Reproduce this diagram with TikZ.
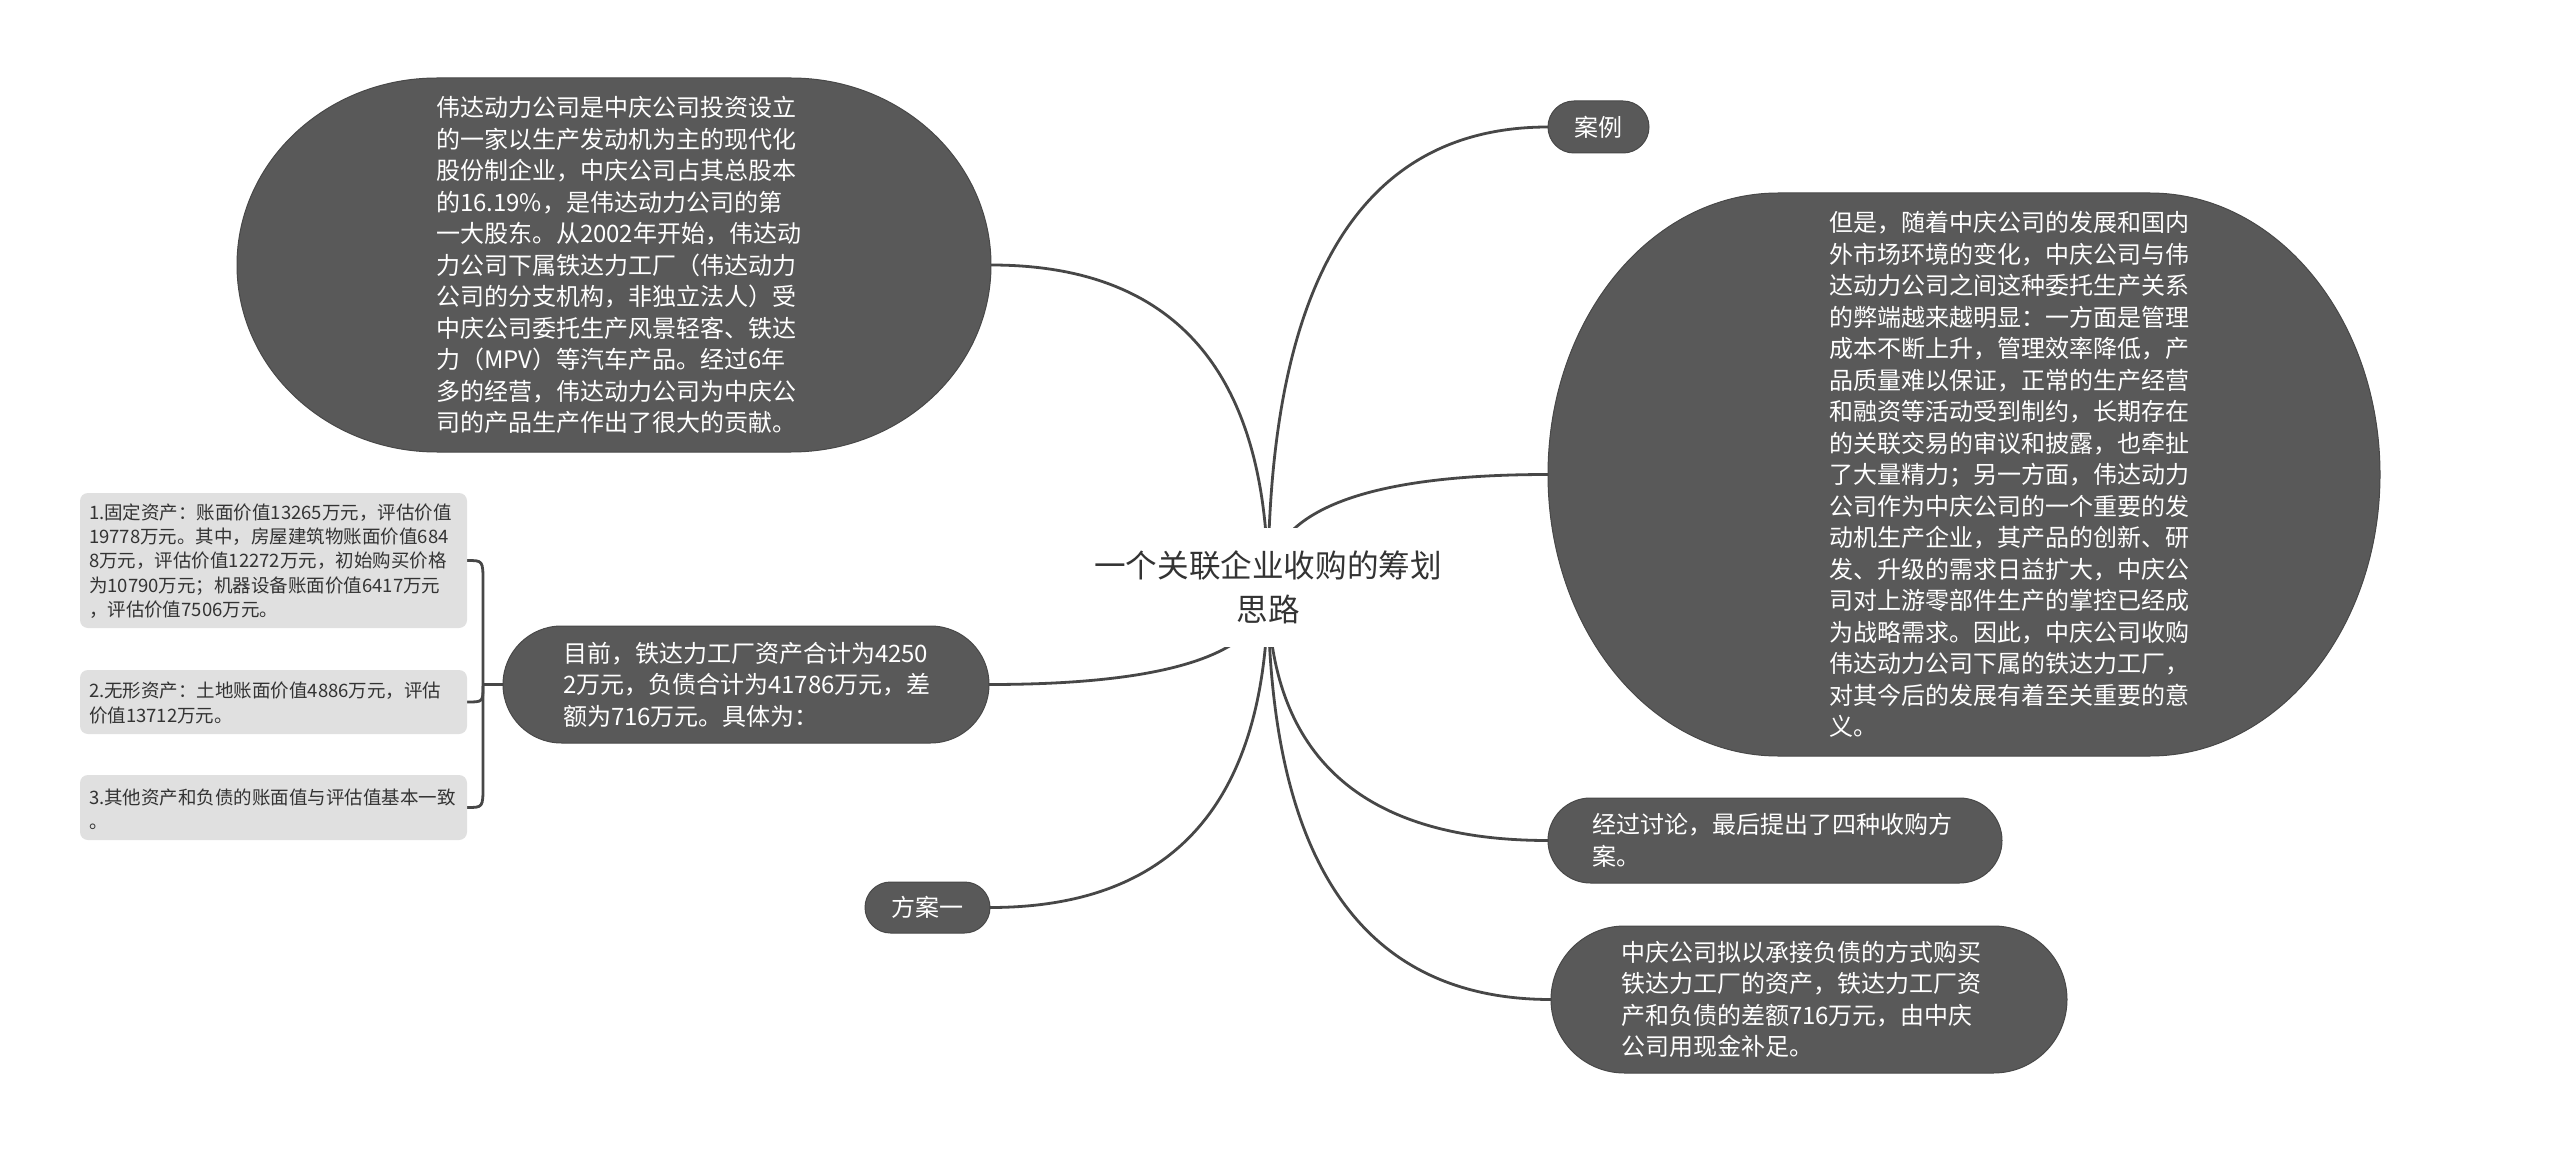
\documentclass[tikz,border=0pt]{standalone}
\usepackage{fontspec}
\setmainfont{Noto Sans CJK SC}
\usetikzlibrary{calc,backgrounds}
\definecolor{nodefill}{HTML}{595959}
\definecolor{nodeedge}{HTML}{484848}
\definecolor{linec}{HTML}{474747}
\definecolor{rectfill}{HTML}{E0E0E0}
\definecolor{recttext}{HTML}{333333}
\definecolor{maintext}{HTML}{333333}
\newcommand\ovalfill[3]{%
 \filldraw[bubblefill] ($(#1.north west)+(#2,0)$) -- ($(#1.north east)+(-#2,0)$)
   arc[start angle=270,end angle=360,x radius=#2,y radius=#3]
   -- ($(#1.south east)+(0,-#3)$)
   arc[start angle=0,end angle=90,x radius=#2,y radius=#3]
   -- ($(#1.south west)+(#2,0)$)
   arc[start angle=90,end angle=180,x radius=#2,y radius=#3]
   -- ($(#1.north west)+(0,#3)$)
   arc[start angle=180,end angle=270,x radius=#2,y radius=#3] -- cycle;}
\newcommand\mmlink[2]{\draw[conn] (#1) .. controls ($(#1)!0.6667!(#1|-#2)$) and ($(#2)!0.6667!(#1|-#2)$) .. (#2);}
\begin{document}
\begin{tikzpicture}[x=0.5pt,y=-0.5pt,
  frame/.style={shape=rectangle,inner sep=0pt,outer sep=0pt,draw=none},
  bubblefill/.style={fill=nodefill,draw=nodeedge,line width=0.5pt},
  conn/.style={draw=linec,line width=1.4pt},
  wtext/.style={inner sep=0pt,outer sep=0pt,text=white,align=left,font=\fontsize{12}{15.75}\selectfont},
  rtext/.style={inner sep=0pt,outer sep=0pt,text=recttext,align=left,font=\fontsize{9.25}{12.1}\selectfont},
  rectbox/.style={shape=rectangle,inner sep=0pt,outer sep=0pt,fill=rectfill,rounded corners=4pt,minimum width=193.5pt}
]
\useasboundingbox (0,0) rectangle (2560,1155);

% frames of the bubbles
\node[frame,minimum width=377pt,minimum height=187pt] (n1) at (614,265) {};
\node[frame,minimum width=416pt,minimum height=281.5pt] (nr) at (1964,474.5) {};
\node[frame,minimum width=50.5pt,minimum height=26pt] (anli) at (1598.5,127) {};
\node[frame,minimum width=227pt,minimum height=42.5pt] (jg) at (1775,840.5) {};
\node[frame,minimum width=258pt,minimum height=73.5pt] (zq) at (1809,999.5) {};
\node[frame,minimum width=243pt,minimum height=58.5pt] (mq) at (746,684.5) {};
\node[frame,minimum width=62.5pt,minimum height=25.5pt] (fa) at (927.5,907.5) {};

% gray rectangles
\node[rectbox,minimum height=67.5pt] (r1) at (273.5,560.5) {};
\node[rectbox,minimum height=32pt] (r2) at (273.5,702) {};
\node[rectbox,minimum height=32.5pt] (r3) at (273.5,807.5) {};

% central topic
\node[shape=rectangle,fill=white,inner sep=0pt,minimum width=182.5pt,minimum height=59.5pt,
      text=maintext,align=center,font=\fontsize{15.8}{22}\selectfont] (c) at (1268,587)
      {一个关联企业收购的筹划\\思路};

\coordinate (bx) at (483,0);

\begin{scope}[on background layer]
  \fill[white] (0,0) rectangle (2560,1155);
  \mmlink{c.center}{n1.east}
  \mmlink{c.center}{anli.west}
  \mmlink{c.center}{nr.west}
  \mmlink{c.center}{mq.east}
  \mmlink{c.center}{fa.east}
  \mmlink{c.center}{jg.west}
  \mmlink{c.center}{zq.west}
  % bracket to the three items
  \draw[conn] (r1.east) .. controls (r1.east -| bx) .. ($(r1.east -| bx)+(0,22)$)
     -- ($(r3.east -| bx)+(0,-22)$) .. controls (r3.east -| bx) .. (r3.east);
  \draw[conn] (r2.east) .. controls (r2.east -| bx) .. ($(r2.east -| bx)+(0,-16)$);
  \draw[conn] (mq.west) -- (mq.west -| bx);
\end{scope}

% bubble shapes
\ovalfill{n1}{200}{187}
\ovalfill{nr}{230}{281.5}
\ovalfill{anli}{26}{26}
\ovalfill{jg}{42.5}{42.5}
\ovalfill{zq}{73.5}{73.5}
\ovalfill{mq}{58.5}{58.5}
\ovalfill{fa}{25.5}{25.5}

% texts
\node[wtext,anchor=west] (t1) at (436,265) {伟达动力公司是中庆公司投资设立\\的一家以生产发动机为主的现代化\\股份制企业，中庆公司占其总股本\\的16.19\%，是伟达动力公司的第\\一大股东。从2002年开始，伟达动\\力公司下属铁达力工厂（伟达动力\\公司的分支机构，非独立法人）受\\中庆公司委托生产风景轻客、铁达\\力（MPV）等汽车产品。经过6年\\多的经营，伟达动力公司为中庆公\\司的产品生产作出了很大的贡献。};
\node[wtext,anchor=west] (tr) at (1829,474.5) {但是，随着中庆公司的发展和国内\\外市场环境的变化，中庆公司与伟\\达动力公司之间这种委托生产关系\\的弊端越来越明显：一方面是管理\\成本不断上升，管理效率降低，产\\品质量难以保证，正常的生产经营\\和融资等活动受到制约，长期存在\\的关联交易的审议和披露，也牵扯\\了大量精力；另一方面，伟达动力\\公司作为中庆公司的一个重要的发\\动机生产企业，其产品的创新、研\\发、升级的需求日益扩大，中庆公\\司对上游零部件生产的掌控已经成\\为战略需求。因此，中庆公司收购\\伟达动力公司下属的铁达力工厂，\\对其今后的发展有着至关重要的意\\义。};
\node[wtext,anchor=center] (tanli) at (anli.center) {案例};
\node[wtext,anchor=west] (tjg) at (1592,840.5) {经过讨论，最后提出了四种收购方\\案。};
\node[wtext,anchor=west] (tzq) at (1621,999.5) {中庆公司拟以承接负债的方式购买\\铁达力工厂的资产，铁达力工厂资\\产和负债的差额716万元，由中庆\\公司用现金补足。};
\node[wtext,anchor=west] (tmq) at (563,684.5) {目前，铁达力工厂资产合计为4250\\2万元，负债合计为41786万元，差\\额为716万元。具体为：};
\node[wtext,anchor=center] (tfa) at (fa.center) {方案一};

\node[rtext,anchor=west] (tr1) at (89,561) {1.固定资产：账面价值13265万元，评估价值\\19778万元。其中，房屋建筑物账面价值684\\8万元，评估价值12272万元，初始购买价格\\为10790万元；机器设备账面价值6417万元\\，评估价值7506万元。};
\node[rtext,anchor=west] (tr2) at (89,703) {2.无形资产：土地账面价值4886万元，评估\\价值13712万元。};
\node[rtext,anchor=west] (tr3) at (89,809) {3.其他资产和负债的账面值与评估值基本一致\\。};
\end{tikzpicture}
\end{document}
